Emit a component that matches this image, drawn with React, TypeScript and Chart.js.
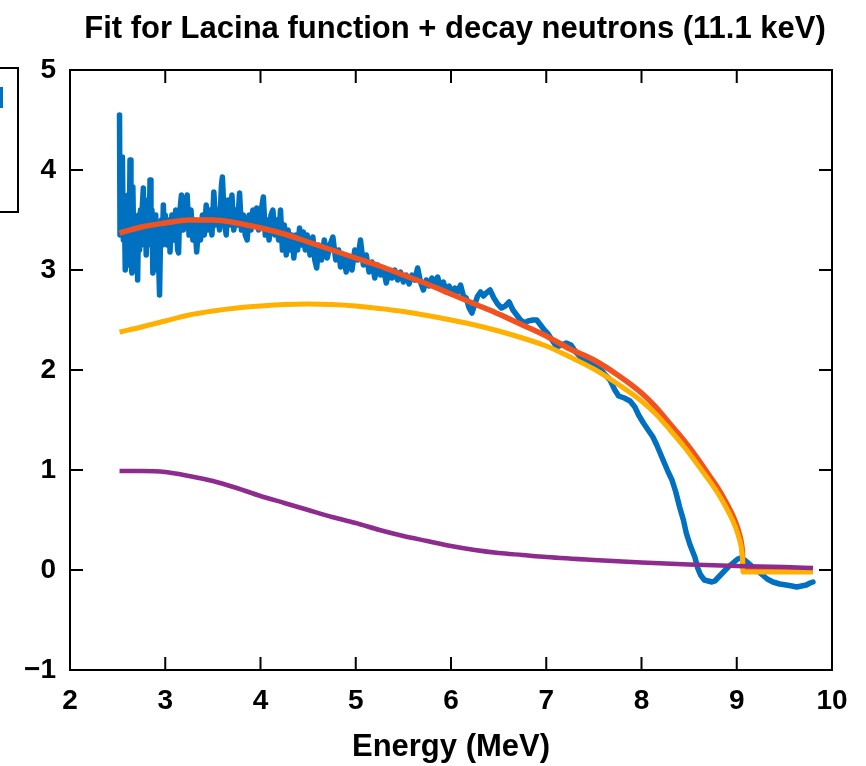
import React, { useEffect, useRef } from 'react';
import { Chart, registerables } from 'chart.js';

Chart.register(...registerables);

const TITLE = 'Fit for Lacina function + decay neutrons (11.1 keV)';
const X_TITLE = 'Energy (MeV)';
const X_MIN = 2;
const X_MAX = 10;
const Y_MIN = -1;
const Y_MAX = 5;

// Fit curves (total fit and Lacina function share the energy grid)
const fitEnergy = [2.52, 2.75, 3.0, 3.25, 3.5, 3.75, 4.0, 4.25, 4.5, 4.75, 5.0, 5.25, 5.5, 5.75, 6.0, 6.25, 6.5, 6.75, 7.0, 7.25, 7.5, 7.75, 8.0, 8.15, 8.3, 8.45, 8.6, 8.7, 8.8, 8.88, 8.94, 8.99, 9.03, 9.05, 9.06, 9.065, 9.3, 9.8];
const totalFit = [3.37, 3.43, 3.47, 3.5, 3.5, 3.47, 3.42, 3.36, 3.28, 3.2, 3.12, 3.04, 2.95, 2.86, 2.76, 2.66, 2.56, 2.45, 2.34, 2.21, 2.1, 1.95, 1.77, 1.63, 1.46, 1.29, 1.1, 0.96, 0.82, 0.69, 0.58, 0.47, 0.35, 0.26, 0.17, 0.02, 0.01, 0.0];
const lacinaFit = [2.38, 2.43, 2.49, 2.55, 2.59, 2.62, 2.64, 2.655, 2.66, 2.655, 2.64, 2.615, 2.585, 2.545, 2.5, 2.45, 2.39, 2.32, 2.24, 2.13, 2.01, 1.86, 1.69, 1.56, 1.4, 1.23, 1.04, 0.91, 0.77, 0.64, 0.53, 0.42, 0.3, 0.21, 0.12, -0.02, -0.02, -0.02];

// Decay neutron component
const decayEnergy = [2.52, 2.75, 3.0, 3.25, 3.5, 3.75, 4.0, 4.25, 4.5, 4.75, 5.0, 5.25, 5.5, 5.75, 6.0, 6.25, 6.5, 6.75, 7.0, 7.5, 8.0, 8.5, 9.0, 9.5, 9.8];
const decayFit = [0.99, 0.99, 0.98, 0.94, 0.89, 0.82, 0.74, 0.67, 0.6, 0.53, 0.47, 0.4, 0.34, 0.29, 0.24, 0.2, 0.17, 0.15, 0.13, 0.1, 0.075, 0.055, 0.04, 0.03, 0.02];

// Measured spectrum [energy, value]
const measured: [number, number][] = [
  [2.52, 4.55], [2.525, 3.35], [2.53, 3.9], [2.54, 3.4], [2.55, 4.13], [2.56, 3.3], [2.57, 3.7], [2.58, 3.0], [2.59, 3.55], [2.6, 3.2],
  [2.61, 3.75], [2.62, 3.05], [2.63, 4.1], [2.64, 3.1], [2.65, 2.97], [2.66, 3.83], [2.67, 3.2], [2.68, 3.5], [2.69, 3.0], [2.7, 3.4],
  [2.71, 2.9], [2.72, 3.55], [2.73, 3.2], [2.74, 3.6], [2.75, 3.25], [2.76, 3.65], [2.77, 3.82], [2.78, 3.3], [2.79, 3.6], [2.8, 3.15],
  [2.81, 3.5], [2.82, 3.7], [2.83, 3.3], [2.84, 3.9], [2.85, 3.25], [2.86, 3.6], [2.87, 2.97], [2.88, 3.4], [2.89, 3.0], [2.9, 3.55],
  [2.91, 3.15], [2.92, 3.45], [2.93, 3.1], [2.94, 2.75], [2.95, 3.3], [2.96, 3.5], [2.97, 3.25], [2.98, 3.65], [2.99, 3.3], [3.0, 3.55],
  [3.02, 3.25], [3.04, 3.5], [3.05, 3.18], [3.07, 3.55], [3.09, 3.3], [3.11, 3.6], [3.13, 3.2], [3.14, 3.17], [3.15, 3.55], [3.17, 3.75],
  [3.19, 3.4], [3.21, 3.6], [3.23, 3.75], [3.25, 3.35], [3.27, 3.6], [3.29, 3.3], [3.31, 3.5], [3.33, 3.18], [3.35, 3.45], [3.37, 3.3],
  [3.39, 3.55], [3.41, 3.35], [3.43, 3.65], [3.45, 3.4], [3.47, 3.6], [3.49, 3.35], [3.51, 3.78], [3.53, 3.45], [3.55, 3.6], [3.57, 3.4],
  [3.59, 3.85], [3.6, 3.93], [3.62, 3.5], [3.64, 3.35], [3.66, 3.7], [3.68, 3.45], [3.7, 3.75], [3.72, 3.4], [3.74, 3.6], [3.76, 3.45],
  [3.78, 3.77], [3.8, 3.4], [3.82, 3.55], [3.84, 3.35], [3.86, 3.3], [3.88, 3.55], [3.9, 3.4], [3.92, 3.6], [3.94, 3.45], [3.96, 3.62],
  [3.98, 3.4], [4.0, 3.55], [4.03, 3.73], [4.05, 3.35], [4.07, 3.5], [4.09, 3.3], [4.11, 3.55], [4.13, 3.6], [4.15, 3.35], [4.17, 3.5],
  [4.19, 3.3], [4.21, 3.6], [4.23, 3.2], [4.25, 3.45], [4.27, 3.15], [4.29, 3.4], [4.31, 3.2], [4.33, 3.35], [4.35, 3.12], [4.37, 3.35],
  [4.39, 3.2], [4.41, 3.42], [4.43, 3.25], [4.45, 3.38], [4.47, 3.2], [4.49, 3.35], [4.52, 3.15], [4.55, 3.33], [4.57, 3.1], [4.59, 3.02],
  [4.61, 3.25], [4.64, 3.1], [4.67, 3.3], [4.7, 3.12], [4.73, 3.25], [4.76, 3.33], [4.79, 3.1], [4.82, 3.2], [4.84, 3.03], [4.87, 3.15],
  [4.9, 2.98], [4.93, 3.12], [4.96, 3.0], [4.99, 3.2], [5.02, 3.1], [5.05, 3.3], [5.08, 3.05], [5.11, 3.15], [5.14, 2.98], [5.17, 3.08],
  [5.2, 2.92], [5.23, 3.05], [5.26, 2.95], [5.29, 3.02], [5.32, 2.87], [5.35, 2.98], [5.38, 2.92], [5.41, 3.0], [5.44, 2.9], [5.47, 2.98],
  [5.5, 2.88], [5.53, 2.95], [5.56, 2.86], [5.59, 2.95], [5.62, 2.9], [5.65, 3.02], [5.68, 2.88], [5.71, 2.8], [5.74, 2.9], [5.77, 2.84],
  [5.8, 2.92], [5.83, 2.86], [5.86, 2.93], [5.89, 2.82], [5.92, 2.88], [5.95, 2.78], [5.98, 2.84], [6.01, 2.76], [6.04, 2.82], [6.07, 2.78],
  [6.1, 2.85], [6.13, 2.74], [6.16, 2.72], [6.19, 2.62], [6.22, 2.57], [6.25, 2.66], [6.28, 2.74], [6.31, 2.78], [6.34, 2.74], [6.37, 2.77],
  [6.41, 2.8], [6.45, 2.72], [6.49, 2.66], [6.53, 2.62], [6.57, 2.64], [6.61, 2.68], [6.65, 2.6], [6.69, 2.55], [6.73, 2.5], [6.77, 2.47],
  [6.81, 2.49], [6.86, 2.5], [6.9, 2.5], [6.94, 2.45], [6.98, 2.4], [7.02, 2.36], [7.06, 2.3], [7.11, 2.23], [7.16, 2.25], [7.21, 2.27],
  [7.26, 2.25], [7.31, 2.18], [7.36, 2.13], [7.41, 2.1], [7.46, 2.07], [7.51, 2.05], [7.56, 2.02], [7.62, 1.95], [7.67, 1.9], [7.72, 1.8],
  [7.76, 1.74], [7.82, 1.72], [7.88, 1.69], [7.93, 1.63], [7.97, 1.55], [8.02, 1.47], [8.07, 1.4], [8.12, 1.33], [8.16, 1.25], [8.2, 1.16],
  [8.24, 1.07], [8.28, 0.98], [8.32, 0.9], [8.36, 0.78], [8.4, 0.63], [8.44, 0.5], [8.47, 0.37], [8.51, 0.25], [8.56, 0.13], [8.59, 0.02],
  [8.62, -0.05], [8.66, -0.1], [8.7, -0.11], [8.74, -0.12], [8.77, -0.11], [8.81, -0.07], [8.86, -0.02], [8.91, 0.03], [8.96, 0.07], [9.01, 0.11],
  [9.04, 0.12], [9.08, 0.1], [9.12, 0.07], [9.17, 0.03], [9.22, -0.01], [9.27, -0.05], [9.32, -0.09], [9.38, -0.12], [9.45, -0.14], [9.52, -0.15],
  [9.58, -0.16], [9.63, -0.17], [9.68, -0.16], [9.73, -0.15], [9.77, -0.13], [9.8, -0.12],
];

const BLUE = '#0070C0';
const RED = '#F2521F';
const YELLOW = '#FFB000';
const PURPLE = '#8E2B8E';
const FONT = '"Liberation Sans", Arial, Helvetica, sans-serif';

const framePlugin = {
  id: 'frameAndTicks',
  afterDraw(chart: any) {
    const { ctx, chartArea } = chart;
    const { left, right, top, bottom } = chartArea;
    const xs = chart.scales.x;
    const ys = chart.scales.y;
    ctx.save();
    ctx.strokeStyle = '#000';
    ctx.lineWidth = 2;
    ctx.beginPath();
    ctx.rect(left, top, right - left, bottom - top);
    ctx.stroke();
    const len = 13;
    ctx.beginPath();
    xs.ticks.forEach((t: any) => {
      const px = xs.getPixelForValue(t.value);
      ctx.moveTo(px, bottom);
      ctx.lineTo(px, bottom - len);
      ctx.moveTo(px, top);
      ctx.lineTo(px, top + len);
    });
    ys.ticks.forEach((t: any) => {
      const py = ys.getPixelForValue(t.value);
      ctx.moveTo(left, py);
      ctx.lineTo(left + len, py);
      ctx.moveTo(right, py);
      ctx.lineTo(right - len, py);
    });
    ctx.stroke();

    // title centred over the plot area
    ctx.fillStyle = '#000';
    ctx.font = `bold 31px ${FONT}`;
    ctx.textAlign = 'center';
    ctx.textBaseline = 'middle';
    ctx.fillText(TITLE, (left + right) / 2 + 4, 29);

    // partly visible legend box at the left edge
    ctx.beginPath();
    ctx.rect(-30, 68, 48, 144);
    ctx.stroke();
    ctx.fillStyle = BLUE;
    ctx.fillRect(0, 87, 3, 21);
    ctx.restore();
  },
};

export default function App() {
  const ref = useRef<HTMLCanvasElement | null>(null);
  useEffect(() => {
    if (!ref.current) return;
    const chart = new Chart(ref.current, {
      type: 'line',
      data: {
        datasets: [
          {
            label: 'Decay neutrons',
            data: decayEnergy.map((x, i) => ({ x, y: decayFit[i] })),
            borderColor: PURPLE,
            borderWidth: 4.5,
            pointRadius: 0,
            cubicInterpolationMode: 'monotone',
            order: 0,
          },
          {
            label: 'Lacina function',
            data: fitEnergy.map((x, i) => ({ x, y: lacinaFit[i] })),
            borderColor: YELLOW,
            borderWidth: 5,
            pointRadius: 0,
            cubicInterpolationMode: 'monotone',
            order: 1,
          },
          {
            label: 'Total fit',
            data: fitEnergy.map((x, i) => ({ x, y: totalFit[i] })),
            borderColor: RED,
            borderWidth: 5.5,
            pointRadius: 0,
            cubicInterpolationMode: 'monotone',
            order: 2,
          },
          {
            label: 'Data',
            data: measured.map(([x, y]) => ({ x, y })),
            borderColor: BLUE,
            borderWidth: 5.5,
            borderJoinStyle: 'round',
            borderCapStyle: 'round',
            pointRadius: 0,
            tension: 0,
            order: 3,
          },
        ],
      },
      options: {
        animation: false,
        responsive: true,
        maintainAspectRatio: false,
        layout: { padding: { left: 0, right: 34, top: 70, bottom: 0 } },
        plugins: {
          legend: { display: false },
          title: { display: false },
          tooltip: { enabled: false },
        },
        scales: {
          x: {
            type: 'linear',
            min: X_MIN,
            max: X_MAX,
            grid: { display: false, drawTicks: false },
            border: { display: false },
            ticks: {
              stepSize: 1,
              padding: 14,
              color: '#000',
              font: { family: FONT, size: 28, weight: 'bold' },
              maxRotation: 0,
            },
            title: {
              display: true,
              text: X_TITLE,
              color: '#000',
              font: { family: FONT, size: 31, weight: 'bold' },
              padding: { top: 0, bottom: 0 },
            },
            afterFit: (s: any) => { s.height = 96; },
          },
          y: {
            type: 'linear',
            min: Y_MIN,
            max: Y_MAX,
            grid: { display: false, drawTicks: false },
            border: { display: false },
            ticks: {
              stepSize: 1,
              padding: 14,
              color: '#000',
              font: { family: FONT, size: 28, weight: 'bold' },
              callback: (v: any) => (Number(v) < 0 ? '\u2212' + Math.abs(Number(v)) : String(v)),
            },
            afterFit: (s: any) => { s.width = 70; },
          },
        },
      },
      plugins: [framePlugin],
    });
    return () => chart.destroy();
  }, []);
  return (
    <div style={{ position: 'fixed', left: 0, top: 0, width: 866, height: 766, background: '#fff' }}>
      <canvas ref={ref} />
    </div>
  );
}
